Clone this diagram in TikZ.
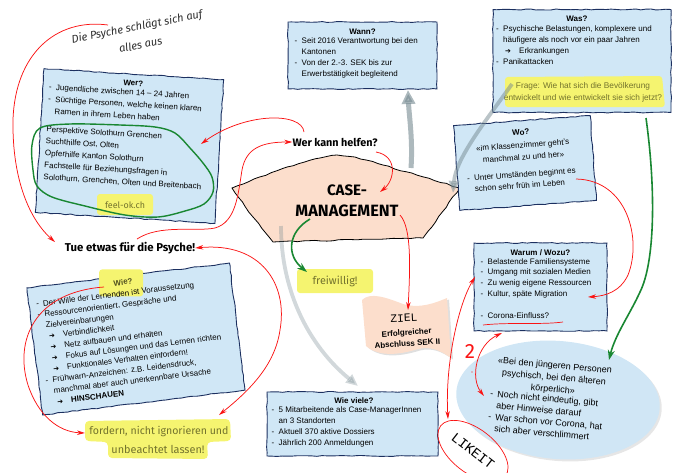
\documentclass[tikz,border=0pt]{standalone}
\usepackage{graphicx}
\usepackage{fontspec}
\setmainfont{Liberation Sans}
\newfontfamily\handf{Fira Sans}
\newfontfamily\monof{Liberation Mono}
\newfontfamily\symf{DejaVu Sans}
\usetikzlibrary{arrows.meta,decorations.pathmorphing,shadows,shapes.geometric}
\definecolor{boxfill}{RGB}{208,231,246}
\definecolor{boxline}{RGB}{28,48,96}
\definecolor{peach}{RGB}{252,222,204}
\definecolor{hl}{RGB}{245,244,112}
\definecolor{olive}{RGB}{115,115,45}
\definecolor{redc}{RGB}{250,20,20}
\definecolor{greenc}{RGB}{25,135,50}
\definecolor{chalk}{RGB}{118,138,145}
\definecolor{ellfill}{RGB}{208,230,245}
\definecolor{darktext}{RGB}{45,45,45}
\newcommand\bxdash{\makebox[7pt][l]{-}}
\newcommand\bxind{\hspace*{7pt}}
\newcommand\bxarr{\hspace*{9pt}\makebox[14pt][l]{\symf\fontsize{7}{7}\selectfont ➔}}
\begin{document}
\begin{tikzpicture}[x=1pt,y=-1pt,
  bx/.style={draw=boxline, fill=boxfill, line width=0.9pt, decorate,
    decoration={random steps,segment length=5pt,amplitude=0.5pt}, inner sep=0pt, transform shape},
  tx/.style={font=\fontsize{8}{11}\selectfont, align=left, inner sep=0pt, anchor=north west, transform shape},
  tt/.style={font=\fontsize{8}{10}\selectfont\bfseries, inner sep=0pt, transform shape},
  hlt/.style={fill=hl, rounded corners=3pt},
  rarr/.style={draw=redc, line width=0.75pt, -{Stealth[length=8pt,width=4.5pt]}},
  rboth/.style={draw=redc, line width=0.75pt, {Stealth[length=8pt,width=4.5pt]}-{Stealth[length=8pt,width=4.5pt]}},
  garr/.style={draw=greenc, line width=1.6pt, -{Stealth[length=10pt,width=7pt]}},
  chalkarr/.style={draw=chalk, line width=5pt, opacity=0.6, -{Triangle[length=14pt,width=13pt]}},
  handtxt/.style={text=olive, inner sep=0pt},
  handbold/.style={text=black, inner sep=0pt}]
\pgfmathsetseed{7}
\useasboundingbox (0,0) rectangle (673,472);

% ---------- central shape ----------
\draw[fill=peach, draw=black, line width=0.8pt, decorate,
  decoration={random steps,segment length=6pt,amplitude=0.6pt}]
  (232,188) -- (287,167) -- (320,158) -- (337,155) -- (355,157) -- (383,165)
  -- (460,188) -- (423,238) -- (273,242) -- (253,217) -- cycle;
\node[handbold] (cm1) at (347,190) {\resizebox{40pt}{!}{\handf\bfseries CASE-}};
\node[handbold] (cm) at (347,211) {\resizebox{103pt}{!}{\handf\bfseries MANAGEMENT}};

% ---------- Wer? ----------
\begin{scope}[shift={(129.5,146)},rotate=-3.5]
\node[bx, minimum width=180, minimum height=144] (wer) at (0,0) {};
\node[tt] (wert) at (0,-63) {Wer?};
\node[tx, font=\fontsize{8}{12}\selectfont] (werl) at (-84,-57)
 {\bxdash Jugendliche zwischen 14 – 24 Jahren\\
  \bxdash Süchtige Personen, welche keinen klaren\\
  \bxind Ramen in ihrem Leben haben\\[6pt]
  Perspektive Solothurn Grenchen\\
  Suchthilfe Ost, Olten\\
  Opferhilfe Kanton Solothurn\\
  Fachstelle für Beziehungsfragen in\\
  Solothurn, Grenchen, Olten und Breitenbach};
\end{scope}
\fill[hlt] (97,194) rectangle (153,215);
\node[handtxt] (feel) at (125,205) {\resizebox{40pt}{!}{\handf feel-ok.ch}};
\draw[greenc, line width=1.4pt] plot[smooth cycle, tension=0.55] coordinates
 {(40,128) (70,124) (120,125) (155,127) (175,133) (190,148) (203,163) (212,177)
  (213,192) (204,204) (185,211) (158,217) (125,215) (85,206) (52,197) (37,186) (33,170) (32,145)};

% ---------- Wann? ----------
\begin{scope}[shift={(362.5,55.5)}]
\node[bx, minimum width=149, minimum height=67] (wann) at (0,0) {};
\node[tt] (wannt) at (0,-23.5) {Wann?};
\node[tx] (wannl) at (-68,-18)
 {\bxdash Seit 2016 Verantwortung bei den\\ \bxind Kantonen\\
  \bxdash Von der 2.-3. SEK bis zur\\ \bxind Erwerbstätigkeit begleitend};
\end{scope}

% ---------- Was? ----------
\begin{scope}[shift={(582,61)}]
\node[bx, minimum width=178, minimum height=103] (was) at (0,0) {};
\node[tt] (wast) at (-5,-42) {Was?};
\node[tx] (wasl) at (-86,-36)
 {\bxdash Psychische Belastungen, komplexere und\\
  \bxind häufigere als noch vor ein paar Jahren\\
  \bxarr Erkrankungen\\
  \bxdash Panikattacken};
\fill[hlt] (-77,16) -- (80,15) -- (83,46) -- (-77,46) -- cycle;
\node[font=\fontsize{8.3}{12}\selectfont, text=olive, align=center, inner sep=0pt] (frage) at (1,31)
 {Frage: Wie hat sich die Bevölkerung\\entwickelt und wie entwickelt sie sich jetzt?};
\end{scope}

% ---------- Wo? ----------
\begin{scope}[shift={(525,163)},rotate=4.2]
\node[bx, minimum width=137, minimum height=85] (wo) at (0,0) {};
\node[tt] (wot) at (-2,-31) {Wo?};
\node[font=\fontsize{8}{12}\selectfont, align=center, inner sep=0pt, transform shape] (woq) at (-1,-12)
 {«im Klassenzimmer geht’s\\manchmal zu und her»};
\node[tx] (wol) at (-59,8) {\bxdash Unter Umständen beginnt es\\ \bxind schon sehr früh im Leben};
\end{scope}

% ---------- Warum / Wozu? ----------
\begin{scope}[shift={(540.5,287)}]
\node[bx, minimum width=133, minimum height=88] (warum) at (0,0) {};
\node[tt] (warumt) at (0,-34) {Warum / Wozu?};
\node[tx, font=\fontsize{8}{10.8}\selectfont] (waruml) at (-60,-29)
 {\bxdash Belastende Familiensysteme\\
  \bxdash Umgang mit sozialen Medien\\
  \bxdash Zu wenig eigene Ressourcen\\
  \bxdash Kultur, späte Migration\\[10.8pt]
  \bxdash Corona-Einfluss?};
\end{scope}
\draw[redc, line width=0.7pt] (483,325) .. controls (510,322) and (540,325) .. (563,322);

% ---------- Wie viele? ----------
\begin{scope}[shift={(352.5,424)}]
\node[bx, minimum width=171, minimum height=64] (wieviele) at (0,0) {};
\node[tt] (wievielet) at (1.5,-23) {Wie viele?};
\node[tx] (wievielel) at (-81,-18)
 {\bxdash 5 Mitarbeitende als Case-ManagerInnen\\ \bxind an 3 Standorten\\
  \bxdash Aktuell 370 aktive Dossiers\\ \bxdash Jährlich 200 Anmeldungen};
\end{scope}

% ---------- Wie? ----------
\begin{scope}[shift={(136,339)},rotate=7]
\node[bx, minimum width=204, minimum height=128] (wie) at (0,0) {};
\fill[hlt, rotate around={-7:(-8,-57)}] (-30,-71) rectangle (14,-44);
\node[tt, text=olive!70!black] (wiet) at (-6,-58) {Wie?};
\node[tx] (wiel) at (-95,-50)
 {\bxdash Der Wille der Lernenden ist Voraussetzung\\
  \bxdash Ressourcenorientiert, Gespräche und\\
  \bxind Zielvereinbarungen\\
  \bxarr Verbindlichkeit\\
  \bxarr Netz aufbauen und erhalten\\
  \bxarr Fokus auf Lösungen und das Lernen richten\\
  \bxarr Funktionales Verhalten einfordern!\\
  \bxdash Frühwarn-Anzeichen: z.B. Leidensdruck,\\
  \bxind manchmal aber auch unerkennbare Ursache\\
  \bxarr \textbf{HINSCHAUEN}};
\end{scope}

% ---------- handwritten texts ----------
\node[rotate=11, text=darktext, inner sep=0pt] (psy) at (139,37)
 {\resizebox{133pt}{!}{\handf\itshape\begin{tabular}{@{}c@{}}Die Psyche schlägt sich auf\\[5pt] alles aus\end{tabular}}};
\node[handbold] (wkh) at (335,142) {\resizebox{85pt}{!}{\handf\bfseries Wer kann helfen?}};
\node[handbold] (tue) at (130,248) {\resizebox{130pt}{!}{\handf\bfseries Tue etwas für die Psyche!}};
\fill[hlt] (297,269) rectangle (373,293);
\node[handtxt] (frei) at (335,281) {\resizebox{45pt}{!}{\handf freiwillig!}};
\fill[hl, rounded corners=4pt] (85,421) -- (230,419) -- (231,441) -- (207,442) -- (208,459)
  -- (108,458) -- (108,442) -- (85,441) -- cycle;
\node[handtxt] (ford1) at (159,431) {\resizebox{139pt}{!}{\handf fordern, nicht ignorieren und}};
\node[handtxt] (ford2) at (158,449) {\resizebox{93pt}{!}{\handf unbeachtet lassen!}};

% ---------- ZIEL ----------
\path[fill=peach, drop shadow={opacity=0.25, shadow xshift=2pt, shadow yshift=-1.5pt}]
  (362,300) .. controls (370,292) and (385,297) .. (403,304) .. controls (420,309) and (435,303) .. (447,298)
  -- (451,358) .. controls (440,350) and (430,346) .. (418,349) .. controls (402,354) and (380,358) .. (366,346) -- cycle;
\node[inner sep=0pt, rotate=3] (ziel) at (404,318) {\resizebox{27pt}{!}{\monof ZIEL}};
\node[font=\fontsize{8}{11}\selectfont\bfseries, align=center, inner sep=0pt, rotate=4] (zieltxt) at (407,338)
 {Erfolgreicher\\Abschluss SEK II};

% ---------- ellipse ----------
\node[ellipse, fill=ellfill, minimum width=204, minimum height=118, rotate=-5,
  drop shadow={opacity=0.2, shadow xshift=2pt, shadow yshift=-2pt}] (ell) at (558,400) {};
\begin{scope}[shift={(558,400)},rotate=-5]
\node[font=\fontsize{9}{12}\selectfont, align=center, inner sep=0pt, transform shape] (ellq) at (-6,-21.5)
 {«Bei den jüngeren Personen\\psychisch, bei den älteren\\körperlich»};
\node[tx, font=\fontsize{9}{11.5}\selectfont] (elll) at (-68,-4)
 {\bxdash Noch nicht eindeutig, gibt\\ \bxind aber Hinweise darauf\\
  \bxdash War schon vor Corona, hat\\ \bxind sich aber verschlimmert};
\end{scope}

% ---------- LIKEIT, 2 ----------
\node[ellipse, draw=redc, line width=0.7pt, rotate=-38, minimum width=82, minimum height=44, inner sep=0pt]
  (likeit) at (473,451) {\resizebox{50pt}{!}{\monof LIKEIT}};
\node[text=redc, inner sep=0pt] (two) at (470,351) {\resizebox{!}{14pt}{\handf 2}};
\fill[redc] (472,372) circle (0.7);

% ---------- chalk arrows ----------
\coordinate (a1s) at (411,168); \coordinate (a1e) at (408,90);
\coordinate (a2s) at (512,84); \coordinate (a2e) at (453,193);
\coordinate (a3s) at (281,226); \coordinate (a3e) at (358,386);
\draw[chalkarr, line width=5pt, opacity=0.6] (a1s) .. controls (413,140) and (409,115) .. (a1e);
\draw[chalkarr, line width=3.8pt, opacity=0.5, -{Triangle[length=12pt,width=10pt]}]
  (a2s) .. controls (485,122) and (456,158) .. (a2e);
\draw[chalkarr, line width=3.8pt, opacity=0.33, -{Triangle[length=12pt,width=10pt]}]
  (a3s) .. controls (281,290) and (308,345) .. (a3e);

% ---------- red connectors ----------
\coordinate (r1s) at (108,25); \coordinate (r1e) at (55,242);
\draw[rarr] (r1s) .. controls (55,18) and (15,55) .. (13,120) .. controls (12,180) and (30,220) .. (r1e);
\coordinate (r2s) at (137,239);
\draw[rarr] (r2s) .. controls (160,224) and (195,232) .. (215,228) .. controls (236,222) and (238,195) .. (242,170)
  .. controls (246,148) and (262,142) .. (wkh.west);
\coordinate (r3s) at (304,132); \coordinate (r3e) at (201,144);
\draw[rarr] (r3s) .. controls (302,112) and (245,112) .. (r3e);
\coordinate (r4s) at (376,152); \coordinate (r4e) at (380,192);
\draw[rarr] (r4s) .. controls (398,156) and (395,180) .. (r4e);
\coordinate (r5e) at (219,415);
\draw[rboth] (tue.east) .. controls (262,242) and (288,285) .. (280,330) .. controls (275,365) and (250,390) .. (r5e);
\coordinate (r6s) at (104,287); \coordinate (r6e) at (85,433);
\draw[rarr] (r6s) .. controls (35,292) and (14,340) .. (28,385) .. controls (38,415) and (58,432) .. (r6e);
\coordinate (r7s) at (400,215); \coordinate (r7e) at (408,310);
\draw[rarr] (r7s) .. controls (412,228) and (410,270) .. (r7e);
\coordinate (r8s) at (576,179); \coordinate (r8e) at (588,297);
\draw[rarr] (r8s) .. controls (628,180) and (642,240) .. (628,275) .. controls (620,292) and (605,296) .. (r8e);
\coordinate (r9s) at (475,277); \coordinate (r9e) at (448,419);
\draw[rboth] (r9s) .. controls (458,305) and (445,365) .. (r9e);
\coordinate (r10s) at (502,333); \coordinate (r10e) at (484,396);
\draw[rboth] (r10s) .. controls (476,345) and (470,378) .. (r10e);

% ---------- green connectors ----------
\coordinate (g1s) at (310,219); \coordinate (g1e) at (307,272);
\draw[garr] (g1s) .. controls (288,232) and (286,255) .. (g1e);
\coordinate (g2s) at (646,118); \coordinate (g2e) at (609,360);
\draw[garr] (g2s) .. controls (656,190) and (655,262) .. (640,292) .. controls (630,314) and (615,335) .. (g2e);
\end{tikzpicture}
\end{document}
